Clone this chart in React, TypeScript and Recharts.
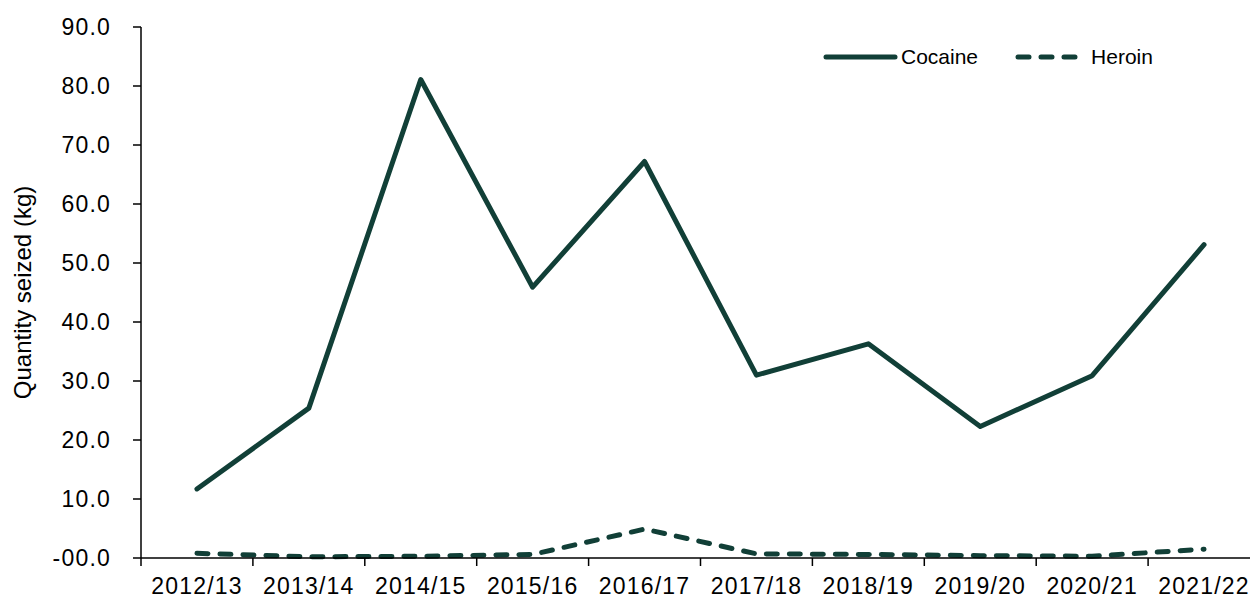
import React from 'react';
import { LineChart, Line, XAxis, YAxis } from 'recharts';

const years = ['2012/13', '2013/14', '2014/15', '2015/16', '2016/17', '2017/18', '2018/19', '2019/20', '2020/21', '2021/22'];
const cocaine = [11.7, 25.4, 81.1, 45.9, 67.2, 31.0, 36.3, 22.3, 30.9, 53.1];
const heroin = [0.8, 0.2, 0.3, 0.6, 4.9, 0.7, 0.6, 0.4, 0.3, 1.5];
const yTicks = [0, 10, 20, 30, 40, 50, 60, 70, 80, 90];

const data = years.map((year, i) => ({ year, cocaine: cocaine[i], heroin: heroin[i] }));

const GREEN = '#113f37';
const FONT = '"Liberation Sans", Arial, sans-serif';
const CHART_W = 1260;
const AXIS_W = 141;
const BAND = (CHART_W - AXIS_W) / years.length;

const fmtY = (v: number) => (v === 0 ? '-00.0' : v.toFixed(1));

function XTick(props: any) {
  const { x, y, payload, index } = props;
  const axisY = y - 16;
  return (
    <g>
      <line x1={x - BAND / 2} x2={x - BAND / 2} y1={axisY} y2={axisY + 8} stroke="#000" strokeWidth={1.5} />
      {index === years.length - 1 && (
        <line x1={x + BAND / 2} x2={x + BAND / 2} y1={axisY} y2={axisY + 8} stroke="#000" strokeWidth={1.5} />
      )}
      <text x={x} y={y + 20} textAnchor="middle" fontSize={23} letterSpacing={1.2} fontFamily={FONT} fill="#000">
        {payload.value}
      </text>
    </g>
  );
}

function YTick(props: any) {
  const { x, y, payload } = props;
  return (
    <text x={x} y={y} dy={8} textAnchor="end" fontSize={23} letterSpacing={1.2} fontFamily={FONT} fill="#000">
      {fmtY(payload.value)}
    </text>
  );
}

function YLabel(props: any) {
  const { viewBox } = props;
  const cy = viewBox.y + viewBox.height / 2;
  return (
    <text
      x={22}
      y={cy}
      transform={`rotate(-90 22 ${cy})`}
      textAnchor="middle"
      dominantBaseline="central"
      fontSize={24}
      fontFamily={FONT}
      fill="#000"
    >
      Quantity seized (kg)
    </text>
  );
}

function ChartLegend() {
  const item = (label: string, dashed: boolean, lineW: number, gap: number) => (
    <div style={{ display: 'flex', alignItems: 'center' }}>
      <svg width={lineW + 10} height={12}>
        <line
          x1={5}
          x2={lineW + 5}
          y1={6}
          y2={6}
          stroke={GREEN}
          strokeWidth={5}
          strokeLinecap="round"
          strokeDasharray={dashed ? '11 12' : undefined}
        />
      </svg>
      <span style={{ marginLeft: gap, fontSize: 21, fontFamily: FONT, color: '#000' }}>{label}</span>
    </div>
  );
  return (
    <div style={{ position: 'absolute', top: 45, left: 821, display: 'flex', alignItems: 'center' }}>
      {item('Cocaine', false, 69, 1)}
      <div style={{ width: 35 }} />
      {item('Heroin', true, 60, 8)}
    </div>
  );
}

export default function App() {
  return (
    <div style={{ position: 'absolute', left: 0, top: 0, width: 1250, height: 599, overflow: 'hidden', background: '#fff' }}>
      <LineChart width={CHART_W} height={599} data={data} margin={{ top: 27, right: 0, bottom: 0, left: 0 }}>
        <XAxis
          dataKey="year"
          scale="band"
          height={41}
          interval={0}
          tickLine={false}
          tickSize={8}
          tickMargin={8}
          tick={<XTick />}
          axisLine={{ stroke: '#000', strokeWidth: 1.5 }}
        />
        <YAxis
          width={AXIS_W}
          domain={[0, 90]}
          ticks={yTicks}
          interval={0}
          tickSize={8}
          tickMargin={22}
          tick={<YTick />}
          tickLine={{ stroke: '#000', strokeWidth: 1.5 }}
          axisLine={{ stroke: '#000', strokeWidth: 1.5 }}
          label={<YLabel />}
        />
        <Line
          dataKey="cocaine"
          name="Cocaine"
          stroke={GREEN}
          strokeWidth={5}
          strokeLinecap="round"
          strokeLinejoin="round"
          dot={false}
          activeDot={false}
          isAnimationActive={false}
        />
        <Line
          dataKey="heroin"
          name="Heroin"
          stroke={GREEN}
          strokeWidth={5}
          strokeLinecap="round"
          strokeLinejoin="round"
          strokeDasharray="11 12"
          dot={false}
          activeDot={false}
          isAnimationActive={false}
        />
      </LineChart>
      <ChartLegend />
    </div>
  );
}
